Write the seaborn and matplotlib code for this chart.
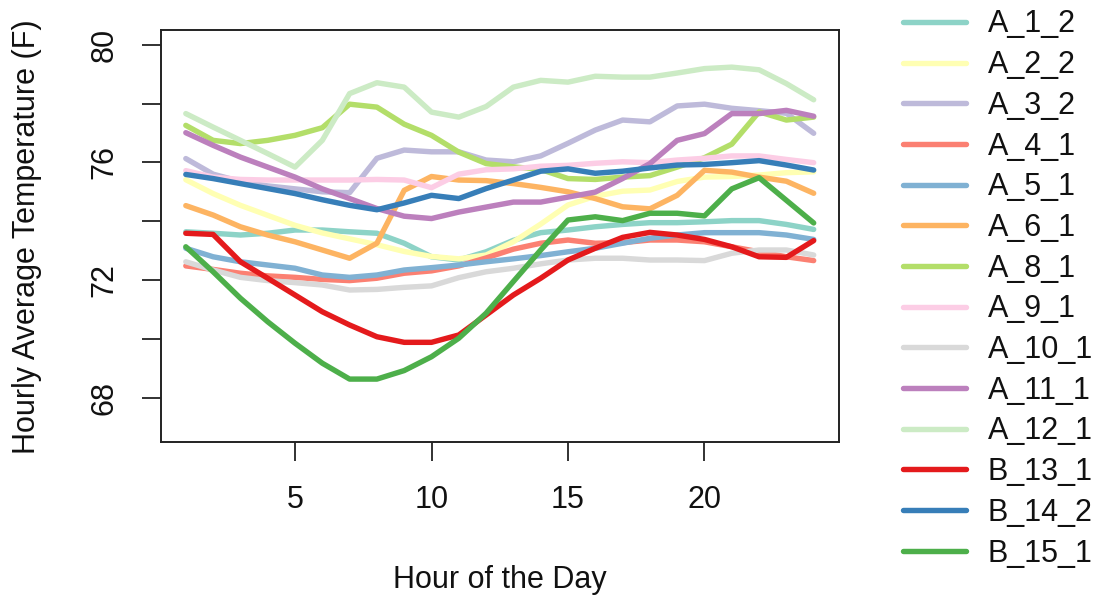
import matplotlib
matplotlib.use("Agg")
import matplotlib.pyplot as plt
import numpy as np
import pandas as pd
import seaborn as sns

hours = list(range(1, 25))

series_names = ["A_1_2", "A_2_2", "A_3_2", "A_4_1", "A_5_1", "A_6_1", "A_8_1",
                "A_9_1", "A_10_1", "A_11_1", "A_12_1", "B_13_1", "B_14_2", "B_15_1"]

series_colors = ["#8DD3C7", "#FFFFB3", "#BEBADA", "#FB8072", "#80B1D3", "#FDB462",
                 "#B3DE69", "#FCCDE5", "#D9D9D9", "#BC80BD", "#CCEBC5", "#E41A1C",
                 "#377EB8", "#4DAF4A"]

A_1_2 = [73.64, 73.59, 73.53, 73.59, 73.70, 73.70, 73.64, 73.59, 73.25, 72.79, 72.68, 72.96,
         73.35, 73.61, 73.70, 73.81, 73.89, 73.95, 73.95, 73.98, 74.02, 74.02, 73.89, 73.72]
A_2_2 = [75.41, 74.94, 74.54, 74.20, 73.86, 73.60, 73.40, 73.20, 72.97, 72.80, 72.72, 72.85,
         73.30, 73.90, 74.55, 74.85, 75.02, 75.06, 75.35, 75.50, 75.52, 75.57, 75.65, 75.68]
A_3_2 = [76.13, 75.60, 75.35, 75.20, 75.10, 75.00, 74.97, 76.14, 76.42, 76.36, 76.36, 76.08,
         76.02, 76.22, 76.65, 77.10, 77.44, 77.38, 77.92, 77.98, 77.84, 77.76, 77.67, 76.99]
A_4_1 = [72.48, 72.36, 72.23, 72.14, 72.09, 72.02, 71.98, 72.06, 72.23, 72.31, 72.48, 72.75,
         73.05, 73.25, 73.36, 73.25, 73.27, 73.36, 73.36, 73.30, 73.13, 72.96, 72.79, 72.66]
A_5_1 = [73.08, 72.79, 72.62, 72.51, 72.40, 72.17, 72.09, 72.17, 72.34, 72.42, 72.51, 72.62,
         72.72, 72.83, 72.96, 73.08, 73.25, 73.42, 73.53, 73.61, 73.61, 73.61, 73.53, 73.38]
A_6_1 = [74.53, 74.21, 73.81, 73.53, 73.30, 73.02, 72.74, 73.25, 75.05, 75.52, 75.40, 75.38,
         75.28, 75.15, 75.00, 74.77, 74.49, 74.42, 74.88, 75.73, 75.67, 75.50, 75.36, 74.95]
A_8_1 = [77.26, 76.75, 76.64, 76.75, 76.92, 77.18, 77.98, 77.88, 77.30, 76.92, 76.35, 75.96,
         75.85, 75.76, 75.45, 75.42, 75.50, 75.55, 75.84, 76.16, 76.62, 77.72, 77.44, 77.54]
A_9_1 = [75.72, 75.50, 75.42, 75.40, 75.40, 75.40, 75.40, 75.42, 75.40, 75.14, 75.60, 75.75,
         75.78, 75.87, 75.90, 75.97, 76.02, 75.99, 76.08, 76.14, 76.22, 76.22, 76.10, 75.99]
A_10_1 = [72.62, 72.34, 72.09, 71.98, 71.91, 71.83, 71.66, 71.68, 71.75, 71.80, 72.08, 72.28,
          72.40, 72.55, 72.68, 72.74, 72.74, 72.68, 72.68, 72.66, 72.91, 73.02, 73.02, 72.85]
A_11_1 = [77.01, 76.58, 76.18, 75.84, 75.50, 75.10, 74.77, 74.43, 74.17, 74.09, 74.31, 74.48,
          74.65, 74.65, 74.82, 74.99, 75.45, 75.96, 76.75, 76.98, 77.66, 77.66, 77.77, 77.57]
A_12_1 = [77.66, 77.20, 76.75, 76.30, 75.84, 76.75, 78.34, 78.71, 78.56, 77.71, 77.54, 77.90,
          78.56, 78.79, 78.73, 78.93, 78.90, 78.90, 79.04, 79.19, 79.24, 79.15, 78.68, 78.13]
B_13_1 = [73.59, 73.55, 72.62, 72.06, 71.49, 70.92, 70.47, 70.07, 69.88, 69.88, 70.13, 70.81,
          71.49, 72.06, 72.68, 73.08, 73.45, 73.62, 73.53, 73.38, 73.13, 72.79, 72.77, 73.34]
B_14_2 = [75.59, 75.45, 75.28, 75.11, 74.94, 74.73, 74.54, 74.39, 74.62, 74.88, 74.77, 75.11,
          75.40, 75.70, 75.78, 75.63, 75.70, 75.81, 75.91, 75.93, 75.99, 76.06, 75.91, 75.74]
B_15_1 = [73.13, 72.28, 71.38, 70.58, 69.85, 69.17, 68.63, 68.63, 68.92, 69.39, 70.02, 70.87,
          71.95, 73.02, 74.04, 74.15, 74.02, 74.27, 74.27, 74.18, 75.10, 75.48, 74.71, 73.94]

series_values = [A_1_2, A_2_2, A_3_2, A_4_1, A_5_1, A_6_1, A_8_1, A_9_1, A_10_1,
                 A_11_1, A_12_1, B_13_1, B_14_2, B_15_1]

x_ticks = [5, 10, 15, 20]
y_ticks = [68, 70, 72, 74, 76, 78, 80]
y_tick_labels = ["68", "", "72", "", "76", "", "80"]

rows = []
for name, vals in zip(series_names, series_values):
    for h, v in zip(hours, vals):
        rows.append({"hour": h, "temp": v, "series": name})
df = pd.DataFrame(rows)

sns.set_style("white")
plt.rcParams["font.family"] = ["Liberation Sans", "DejaVu Sans"]

FS = 22
W, H = 1107, 600
fig = plt.figure(figsize=(W / 100, H / 100), dpi=100)
left, right, top, bottom = 160.7, 838.8, 29.5, 442.3
ax = fig.add_axes([left / W, 1 - bottom / H, (right - left) / W, (bottom - top) / H])

sns.lineplot(data=df, x="hour", y="temp", hue="series", hue_order=series_names,
             palette=series_colors, linewidth=3.9, estimator=None, sort=False,
             ax=ax, legend=True)
for ln in ax.lines:
    ln.set_solid_capstyle("round")
    ln.set_solid_joinstyle("round")

handles, labels = ax.get_legend_handles_labels()
ax.get_legend().remove()
for hnd in handles:
    hnd.set_linewidth(3.9)
    hnd.set_solid_capstyle("round")

ax.set_xlim(0.08, 24.92)
ax.set_ylim(66.48, 80.52)
ax.set_xticks(x_ticks)
ax.set_xticklabels([str(t) for t in x_ticks])
ax.set_yticks(y_ticks)
ax.set_yticklabels(y_tick_labels)
ax.set_xlabel("")
ax.set_ylabel("")
for sp in ax.spines.values():
    sp.set_visible(True)
    sp.set_color("#222222")
    sp.set_linewidth(1.4)
ax.tick_params(bottom=True, left=True, top=False, right=False,
               direction="out", length=13.8, width=1.3, color="#222222",
               labelsize=FS, labelcolor="#111111")
ax.tick_params(axis="x", pad=17)
ax.tick_params(axis="y", pad=16, labelrotation=90)
for lab in ax.get_yticklabels():
    lab.set_verticalalignment("center")

fig.text((left + right) / 2 / W, 1 - 580 / H, "Hour of the Day", fontsize=FS,
         ha="center", va="center", color="#111111")
fig.text(27 / W, 1 - 237 / H, "Hourly Average Temperature (F)", fontsize=FS,
         ha="center", va="center", rotation=90, color="#111111")

fig.legend(handles, labels, loc="upper left", bbox_to_anchor=(903 / W, 1 - 9.5 / H),
           bbox_transform=fig.transFigure, frameon=False, fontsize=FS,
           handlelength=2.05, handletextpad=0.72, labelspacing=0.35,
           borderpad=0, borderaxespad=0, labelcolor="#111111")

fig.savefig("out.png", dpi=100)
